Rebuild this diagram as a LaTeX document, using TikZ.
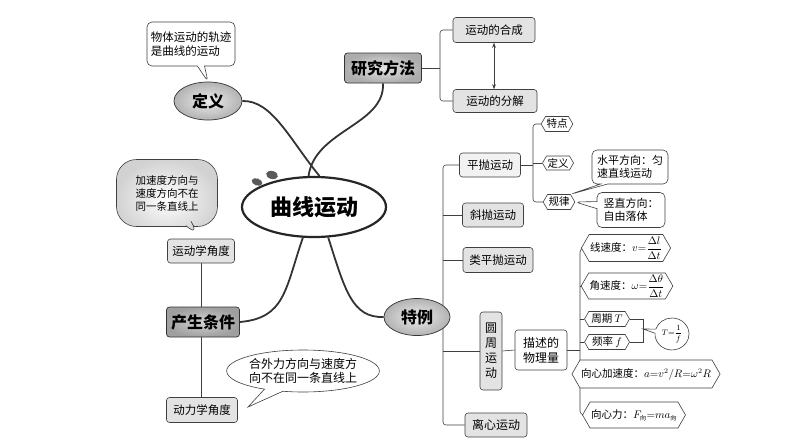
\documentclass[tikz,border=0pt]{standalone}
\usepackage{fontspec}
\setmainfont{Noto Sans CJK SC}
\usetikzlibrary{shapes.geometric,shapes.symbols,shapes.callouts,arrows.meta,calc}
\pgfdeclarelayer{bg}
\pgfsetlayers{bg,main}
\newcommand{\fs}[2]{\fontsize{#1}{#2}\selectfont}
\begin{document}
\begin{tikzpicture}[x=1pt,y=-1pt,
  ln/.style={draw=black!75, line width=0.6pt},
  branch/.style={draw=black!80, line width=1.8pt},
  box/.style={draw=black!75, line width=0.6pt, rounded corners=3pt, fill=gray!10, inner sep=1pt, font=\fs{11.5}{13.5}},
  gbox/.style={box, fill=gray!22},
  mainbox/.style={draw=black!80, line width=0.7pt, rounded corners=3pt, inner color=gray!20, outer color=gray!65, inner sep=1pt, font=\fs{16}{19}\bfseries},
  mainell/.style={ellipse, draw=black!80, line width=0.7pt, inner color=gray!15, outer color=gray!60, inner sep=0pt, font=\fs{16}{19}\bfseries},
  tag/.style={signal, signal to=west and east, signal pointer angle=120, draw=black!75, line width=0.6pt, fill=white, inner sep=1pt, font=\fs{10.5}{12}},
  rcall/.style={rectangle callout, draw=black!75, line width=0.6pt, fill=white, rounded corners=5pt, inner sep=2pt, align=left, font=\fs{11}{13}},
  ecall/.style={ellipse callout, draw=black!75, line width=0.6pt, fill=white, inner sep=0pt, align=left, font=\fs{12}{14}}
]
\useasboundingbox (0,0) rectangle (794,447);

% centre
\node[ellipse, draw=black!85, line width=2.2pt, fill=white, minimum width=144, minimum height=60, font=\fs{22}{25}\bfseries] (c) at (314,207) {曲线运动};
\node[ellipse, fill=black!65, minimum width=11, minimum height=7, inner sep=0pt, rotate=-20] (d1) at (257,182) {};
\node[ellipse, fill=black!65, minimum width=12, minimum height=8, inner sep=0pt, rotate=-15] (d2) at (272,175) {};

% definition
\node[mainell, minimum width=68, minimum height=38] (dy) at (208,101) {定义};
\node[rcall, minimum width=88, minimum height=44, font=\fs{11.5}{14}, callout absolute pointer={(dy.north)}] (dyc) at (191,44) {物体运动的轨迹\\是曲线的运动};

% research method
\node[mainbox, minimum width=77, minimum height=30] (yj) at (383,68) {研究方法};
\node[gbox, minimum width=82, minimum height=25] (hc) at (494,30) {运动的合成};
\node[gbox, minimum width=84, minimum height=23] (fj) at (495,101) {运动的分解};
\coordinate (b1) at (440,68);

% conditions
\node[mainbox, minimum width=73, minimum height=30, inner color=gray!35, outer color=gray!75] (cs) at (203,322) {产生条件};
\node[gbox, minimum width=67, minimum height=24] (ydx) at (201,251) {运动学角度};
\node[gbox, minimum width=71, minimum height=25] (dlx) at (202,410) {动力学角度};
\node[rcall, rounded corners=20pt, minimum width=101, minimum height=67, font=\fs{10.5}{13}, inner color=white, outer color=gray!35, callout absolute pointer={(ydx.north)}] (jc) at (167,193) {加速度方向与\\速度方向不在\\同一条直线上};
\coordinate (hwp) at (248,407);
\node[ecall, minimum width=152, minimum height=42, callout absolute pointer={(hwp)}] (hw) at (303,371) {合外力方向与速度方\\向不在同一条直线上};

% special cases
\node[mainell, minimum width=66, minimum height=37] (ty) at (417,317) {特例};
\coordinate (tx) at (443,317);
\node[box, minimum width=61, minimum height=24] (pp) at (490,165) {平抛运动};
\node[gbox, minimum width=61, minimum height=24] (xp) at (493,215) {斜抛运动};
\node[gbox, minimum width=70, minimum height=25] (lp) at (498,260) {类平抛运动};
\node[gbox, minimum width=22, minimum height=78, align=center, font=\fs{12}{15}] (yz) at (491,351) {圆\\周\\运\\动};
\node[gbox, minimum width=62, minimum height=24, font=\fs{12}{14}] (lx) at (496,425) {离心运动};
\node[box, fill=white, minimum width=52, minimum height=40, align=center, font=\fs{12}{15}] (ms) at (541,350) {描述的\\物理量};

% projectile subtree
\coordinate (px) at (533,165);
\node[tag, minimum height=15] (td) at (557,124) {特点};
\node[tag, minimum height=14] (dy2) at (558,163) {定义};
\node[tag, minimum height=15] (gl) at (559,202) {规律};
\node[rcall, minimum width=76, minimum height=34, callout absolute pointer={(gl.north east)}] (sp) at (630,167) {水平方向：匀\\速直线运动};
\node[rcall, minimum width=68, minimum height=35, callout absolute pointer={(gl.east)}] (sz) at (631,210) {竖直方向：\\自由落体};

% circular subtree
\coordinate (cx) at (580,350);
\node[tag, minimum height=27] (xs) at (626,248) {线速度：$\displaystyle v{=}\frac{\Delta l}{\Delta t}$};
\node[tag, minimum height=26] (js) at (627,286) {角速度：$\displaystyle \omega{=}\frac{\Delta\theta}{\Delta t}$};
\node[tag, minimum height=15, minimum width=45] (zq) at (607,319) {周期 $T$};
\node[tag, minimum height=15, minimum width=45] (pl) at (607,342) {频率 $f$};
\node[tag, minimum height=28] (xa) at (646,374) {向心加速度：$a{=}v^2/R{=}\omega^2R$};
\node[tag, minimum height=26] (xl) at (634,415) {向心力：$F_{\mbox{\fs{6}{7}向}}{=}ma_{\mbox{\fs{6}{7}向}}$};
\coordinate (zb) at (643,329);
\node[ecall, minimum width=34, minimum height=32, font=\fs{8}{9}, callout absolute pointer={(zb)}] (tf) at (672,334) {$\displaystyle T{=}\frac{1}{f}$};

\begin{pgfonlayer}{bg}
  \fill[white] (0,0) rectangle (794,447);
  % branches
  \draw[branch] (dy.east) .. controls (272,100) and (290,140) .. (c.80);
  \draw[branch] (yj.south) .. controls (385,125) and (315,130) .. (c.100);
  \draw[branch] (c.250) .. controls (285,290) and (285,318) .. (cs.east);
  \draw[branch] (c.295) .. controls (345,290) and (352,318) .. (ty.west);
  % research
  \draw[ln] (yj.east) -- (b1);
  \draw[ln, rounded corners=3pt] (hc.west) -| (b1) |- (fj.west);
  \draw[ln, {Stealth[length=5pt]}-{Stealth[length=5pt]}] (hc.south) -- (hc.south |- fj.north);
  % conditions
  \draw[ln] (ydx.south) -- (ydx.south |- dlx.north);
  % special cases
  \draw[ln, rounded corners=3pt] (pp.west) -| (tx) |- (lx.west);
  \draw[ln] (xp.west) -- (xp.west -| tx);
  \draw[ln] (lp.west) -- (lp.west -| tx);
  \draw[ln] (yz.west) -- (yz.west -| tx);
  \draw[ln] (yz.east) -- (ms.west);
  % projectile
  \draw[ln] (pp.east) -- (px);
  \draw[ln, rounded corners=3pt] (td.west) -| (px) |- (gl.west);
  \draw[ln] (dy2.west) -- (dy2.west -| px);
  % circular
  \draw[ln] (ms.east) -- (cx);
  \draw[ln, rounded corners=4pt] (xs.west) -| (cx) |- (xl.west);
  \draw[ln] (js.west) -- (js.west -| cx);
  \draw[ln] (zq.west) -- (zq.west -| cx);
  \draw[ln] (pl.west) -- (pl.west -| cx);
  \draw[ln] (xa.west) -- (xa.west -| cx);
  \draw[ln] (zq.east) -| (zb) |- (pl.east);
\end{pgfonlayer}
\end{tikzpicture}
\end{document}
